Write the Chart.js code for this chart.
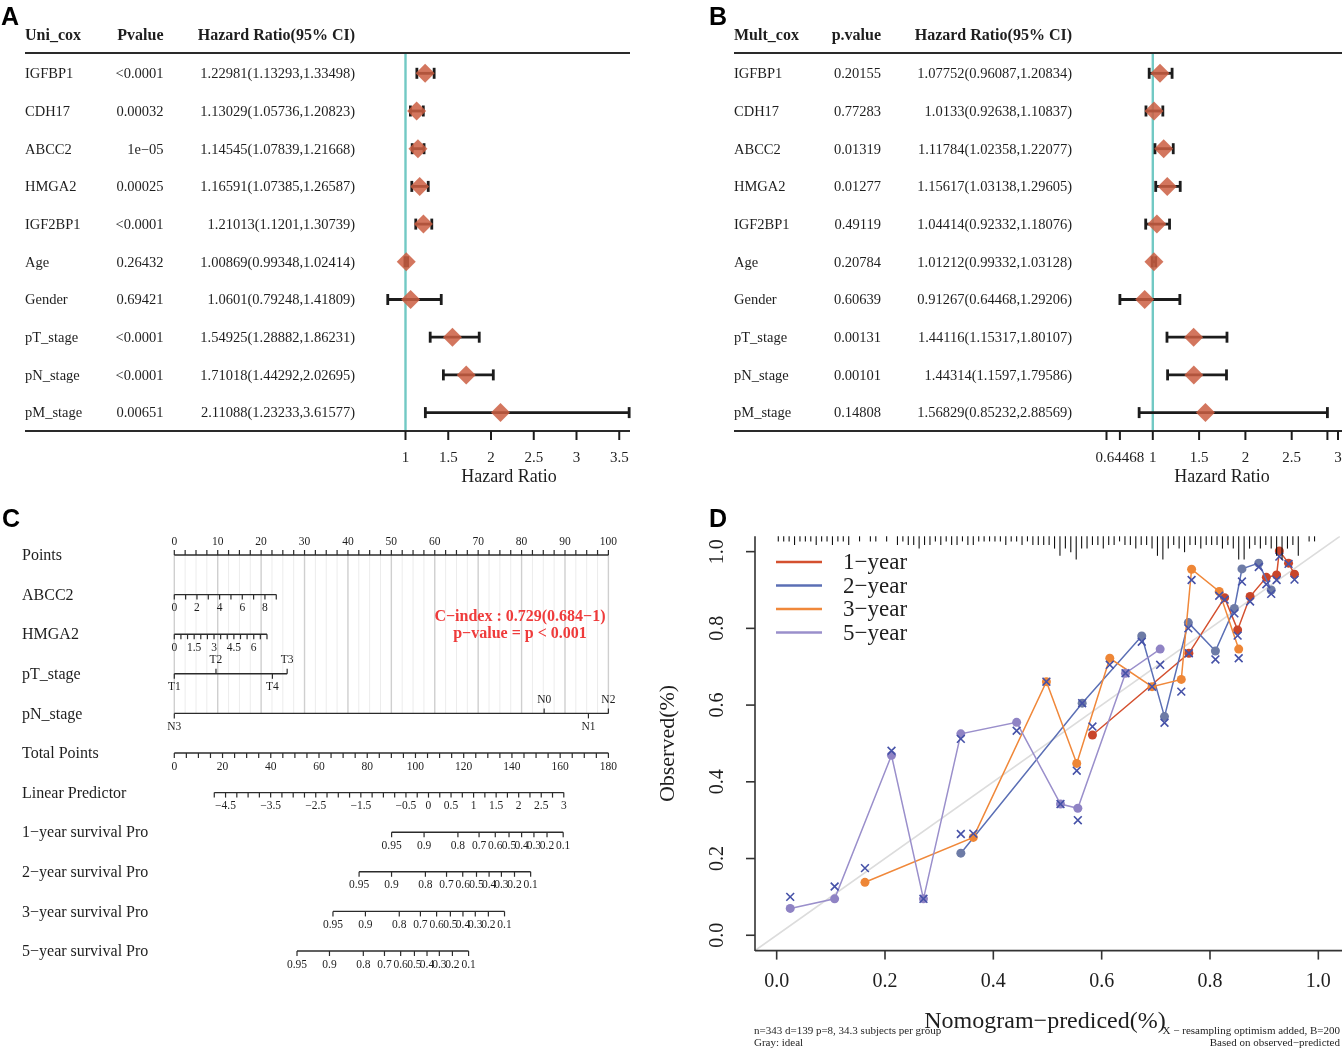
<!DOCTYPE html>
<html><head><meta charset="utf-8">
<script src="https://cdn.jsdelivr.net/npm/chart.js@4.4.1/dist/chart.umd.min.js"></script>
<style>
html,body{margin:0;padding:0;background:#fff;}
#wrap{position:relative;width:1342px;height:1049px;overflow:hidden;background:#fff;}
#wrap canvas{position:absolute;left:0;top:0;}
</style></head><body>
<div id="wrap">
<canvas id="cA" width="1342" height="1049"></canvas>
<canvas id="cB" width="1342" height="1049"></canvas>
<canvas id="cC" width="1342" height="1049"></canvas>
<canvas id="cD" width="1342" height="1049"></canvas>
</div>
<script>
// ================= DATA =================
// Panel A / B : forest plots
const rowNames = ['IGFBP1','CDH17','ABCC2','HMGA2','IGF2BP1','Age','Gender','pT_stage','pN_stage','pM_stage'];
const uniP    = ['<0.0001','0.00032','1e\u221205','0.00025','<0.0001','0.26432','0.69421','<0.0001','<0.0001','0.00651'];
const uniHR   = [1.22981,1.13029,1.14545,1.16591,1.21013,1.00869,1.0601,1.54925,1.71018,2.11088];
const uniLow  = [1.13293,1.05736,1.07839,1.07385,1.1201,0.99348,0.79248,1.28882,1.44292,1.23233];
const uniHigh = [1.33498,1.20823,1.21668,1.26587,1.30739,1.02414,1.41809,1.86231,2.02695,3.61577];
const multP    = ['0.20155','0.77283','0.01319','0.01277','0.49119','0.20784','0.60639','0.00131','0.00101','0.14808'];
const multHR   = [1.07752,1.0133,1.11784,1.15617,1.04414,1.01212,0.91267,1.44116,1.44314,1.56829];
const multLow  = [0.96087,0.92638,1.02358,1.03138,0.92332,0.99332,0.64468,1.15317,1.1597,0.85232];
const multHigh = [1.20834,1.10837,1.22077,1.29605,1.18076,1.03128,1.29206,1.80107,1.79586,2.88569];
const uniTicks = [1,1.5,2,2.5,3,3.5];
const uniTickLabels = ['1','1.5','2','2.5','3','3.5'];
const multTicks = [0.5,0.64468,1,1.5,2,2.5,2.88569,3];
const multTickLabels = ['','0.64468','1','1.5','2','2.5','','3'];

// Panel C : nomogram
const nomoRows = ['Points','ABCC2','HMGA2','pT_stage','pN_stage','Total Points','Linear Predictor',
  '1\u2212year survival Pro','2\u2212year survival Pro','3\u2212year survival Pro','5\u2212year survival Pro'];
const pointsLabels = [0,10,20,30,40,50,60,70,80,90,100];
const abcc2Values = [0,1,2,3,4,5,6,7,8,9];
const abcc2Labels = [0,2,4,6,8];
const abcc2PointsPerUnit = 2.61;
const hmga2Values = [0,0.5,1,1.5,2,2.5,3,3.5,4,4.5,5,5.5,6,6.5,7];
const hmga2Labels = [0,1.5,3,4.5,6];
const hmga2PointsPerUnit = 3.05;
const pTLevels = ['T1','T2','T3','T4'];
const pTPoints = [0,9.6,26.0,22.6];
const pNLevels = ['N0','N1','N2','N3'];
const pNPoints = [85.2,95.4,100,0];
const totalPointsLabels = [0,20,40,60,80,100,120,140,160,180];
const lpLabels = [-4.5,-3.5,-2.5,-1.5,-0.5,0,0.5,1,1.5,2,2.5,3];
const lpRange = [-4.75,3];
const lpToTotal = [105.4,18.7];           // total points = a + b*LP
const survYears = [1,2,3,5];
const baseSurvival = [0.8903,0.7874,0.6527,0.388];
const survProbs = [0.95,0.9,0.8,0.7,0.6,0.5,0.4,0.3,0.2,0.1];
const cIndexText = ['C\u2212index : 0.729(0.684\u22121)','p\u2212value = p < 0.001'];

// Panel D : calibration
const calLabels = ['1\u2212year','2\u2212year','3\u2212year','5\u2212year'];
const calPred1 = [0.583,0.761,0.827,0.851,0.874,0.904,0.923,0.928,0.945,0.956];
const calObs1  = [0.522,0.735,0.880,0.796,0.883,0.933,0.939,1.002,0.970,0.941];
const calCor1  = [0.544,0.735,0.875,0.781,0.870,0.915,0.926,0.987,0.968,0.927];
const calPred2 = [0.340,0.564,0.674,0.716,0.760,0.810,0.845,0.859,0.890,0.913];
const calObs2  = [0.214,0.605,0.780,0.570,0.815,0.741,0.852,0.955,0.970,0.900];
const calCor2  = [0.264,0.605,0.765,0.554,0.800,0.719,0.839,0.922,0.960,0.890];
const calPred3 = [0.163,0.363,0.498,0.554,0.615,0.693,0.747,0.766,0.817,0.853];
const calObs3  = [0.138,0.255,0.661,0.448,0.722,0.648,0.667,0.954,0.896,0.746];
const calCor3  = [0.175,0.265,0.661,0.429,0.705,0.648,0.635,0.926,0.885,0.722];
const calPred5 = [0.025,0.107,0.212,0.271,0.340,0.443,0.524,0.556,0.644,0.708];
const calObs5  = [0.070,0.095,0.469,0.095,0.525,0.555,0.342,0.331,0.683,0.746];
const calCor5  = [0.100,0.127,0.481,0.095,0.512,0.533,0.342,0.300,0.683,0.705];
const calTicks = [0,0.2,0.4,0.6,0.8,1.0];
const calTickLabels = ['0.0','0.2','0.4','0.6','0.8','1.0'];
const idealLine = [-0.04,1.04];
// rug of predicted values: counts in bins of width 0.01 from 0.00 to 0.99
const rugCounts = [1,1,1,2,1,1,1,2,1,1,2,1,1,2, 0,1,0,1,1,0,1,0,
  2,1,2,2,3,2,2,1,2,1,2,2,1,2,2, 1,1,1, 1,1,2,1,1,2,1,2,2,2,2,3, 5,3,4,6,3,3,
  2,2,3,2,2,1,2,2,3,2,2,3, 5,6,3, 2,3,4,2,2,3,2,2,2,3,2,3, 6,6, 3,2,3,2,3, 5,6,3,2,5, 0,1,1];
const footLeft = ['n=343 d=139 p=8, 34.3 subjects per group','Gray: ideal'];
const footRight = ['X \u2212 resampling optimism added, B=200','Based on observed\u2212predicted'];

// ================= HELPERS =================
const W = 1342, H = 1049;
const SERIF = '"Liberation Serif","Times New Roman",serif';
const SANS = '"Liberation Sans",Arial,sans-serif';
function T(ctx, s, x, y, size, o) {
  o = o || {};
  ctx.save();
  ctx.font = (o.bold ? 'bold ' : '') + size + 'px ' + (o.family || SERIF);
  ctx.fillStyle = o.color || '#1e1e1e';
  ctx.textAlign = o.align || 'left';
  ctx.textBaseline = o.baseline || 'middle';
  if (o.rot) { ctx.translate(x, y); ctx.rotate(o.rot); ctx.fillText(s, 0, 0); }
  else ctx.fillText(s, x, y);
  ctx.restore();
}
function L(ctx, x1, y1, x2, y2, color, width) {
  ctx.save(); ctx.beginPath(); ctx.strokeStyle = color || '#222'; ctx.lineWidth = width || 1;
  ctx.moveTo(x1, y1); ctx.lineTo(x2, y2); ctx.stroke(); ctx.restore();
}
function makeChart(id, area, xr, yr, datasets, before, after) {
  return new Chart(document.getElementById(id), {
    type: 'scatter',
    data: { datasets: datasets },
    options: {
      responsive: false, animation: false, events: [], devicePixelRatio: 1,
      layout: { autoPadding: false, padding: { left: area.l, top: area.t, right: W - area.r, bottom: H - area.b } },
      plugins: { legend: { display: false }, tooltip: { enabled: false } },
      scales: {
        x: { type: 'linear', display: false, min: xr[0], max: xr[1] },
        y: { type: 'linear', display: false, min: yr[0], max: yr[1], reverse: !!yr[2] }
      }
    },
    plugins: [{ id: 'p' + id,
      beforeDatasetsDraw(c) { if (before) before(c); },
      afterDraw(c) { if (after) after(c); } }]
  });
}

// ================= FOREST PLOTS =================
function forest(id, cfg) {
  const a = cfg.area;
  const xr = [1 - (cfg.onePx - a.l) / cfg.ppu, 1 + (a.r - cfg.onePx) / cfg.ppu];
  const yr = [-(cfg.row0 - a.t) / cfg.rowStep, (a.b - cfg.row0) / cfg.rowStep, true];
  const ds = [{ data: cfg.hr.map((v, i) => ({ x: v, y: i })), pointStyle: 'rectRot', pointRadius: 9.5,
    pointBackgroundColor: 'rgba(203,94,66,0.85)', pointBorderWidth: 0, borderWidth: 0, clip: false }];
  makeChart(id, a, xr, yr, ds, function (c) {
    const ctx = c.ctx, X = c.scales.x, Y = c.scales.y;
    const x1 = X.getPixelForValue(1);
    L(ctx, x1, a.t, x1, a.b, '#72c9c4', 2.4);
    cfg.hr.forEach((v, i) => {
      const y = Y.getPixelForValue(i), lo = X.getPixelForValue(cfg.lo[i]), hi = X.getPixelForValue(cfg.hi[i]);
      L(ctx, lo, y, hi, y, '#1c1c1c', 2.8);
      L(ctx, lo, y - 5.5, lo, y + 5.5, '#1c1c1c', 2.8);
      L(ctx, hi, y - 5.5, hi, y + 5.5, '#1c1c1c', 2.8);
    });
  }, function (c) {
    const ctx = c.ctx, X = c.scales.x, Y = c.scales.y;
    T(ctx, cfg.headers[0], cfg.colName, cfg.headerY, 16, { bold: true });
    T(ctx, cfg.headers[1], cfg.colP, cfg.headerY, 16, { bold: true, align: 'right' });
    T(ctx, cfg.headers[2], cfg.colHR, cfg.headerY, 16, { bold: true, align: 'right' });
    L(ctx, a.l, a.t, a.r, a.t, '#2a2a2a', 1.8);
    L(ctx, a.l, a.b, a.r, a.b, '#2a2a2a', 2);
    cfg.names.forEach((s, i) => {
      const y = Y.getPixelForValue(i) + 1;
      T(ctx, s, cfg.colName, y, 14.5);
      T(ctx, cfg.p[i], cfg.colP, y, 14.5, { align: 'right' });
      T(ctx, cfg.hr[i] + '(' + cfg.lo[i] + ',' + cfg.hi[i] + ')', cfg.colHR, y, 14.5, { align: 'right' });
    });
    cfg.ticks.forEach((t, i) => {
      const x = X.getPixelForValue(t);
      L(ctx, x, a.b, x, a.b + 9, '#1c1c1c', 2);
      if (cfg.tickLabels[i]) T(ctx, cfg.tickLabels[i], x, a.b + 27, 15, { align: 'center' });
    });
    T(ctx, 'Hazard Ratio', cfg.titleX, a.b + 46, 18, { align: 'center' });
    T(ctx, cfg.letter, cfg.letterX, 25, 25, { bold: true, family: SANS, baseline: 'alphabetic', color: '#000' });
  });
}

forest('cA', { area: { l: 25, t: 53, r: 630, b: 431 }, onePx: 405.5, ppu: 85.5, row0: 73.3, rowStep: 37.7,
  names: rowNames, p: uniP, hr: uniHR, lo: uniLow, hi: uniHigh, ticks: uniTicks, tickLabels: uniTickLabels,
  headers: ['Uni_cox', 'Pvalue', 'Hazard Ratio(95% CI)'], headerY: 36, colName: 25, colP: 163.5, colHR: 355,
  titleX: 509, letter: 'A', letterX: 1 });
forest('cB', { area: { l: 734, t: 53, r: 1342, b: 431 }, onePx: 1152.8, ppu: 92.6, row0: 73.3, rowStep: 37.7,
  names: rowNames, p: multP, hr: multHR, lo: multLow, hi: multHigh, ticks: multTicks, tickLabels: multTickLabels,
  headers: ['Mult_cox', 'p.value', 'Hazard Ratio(95% CI)'], headerY: 36, colName: 734, colP: 881, colHR: 1072,
  titleX: 1222, letter: 'B', letterX: 709 });

// ================= NOMOGRAM =================
(function () {
  const area = { l: 174.3, t: 540, r: 608.4, b: 965 };
  const row0 = 555, rowStep = 39.6;
  const yr = [-(row0 - area.t) / rowStep, (area.b - row0) / rowStep, true];
  makeChart('cC', area, [0, 100], yr, [], null, function (c) {
    const ctx = c.ctx, X = c.scales.x, Y = c.scales.y;
    const xp = v => X.getPixelForValue(v), yp = i => Y.getPixelForValue(i);
    const AX = '#2b2b2b', FS = 11.5;
    for (let k = 0; k <= 40; k++) {
      const p = k * 2.5, major = k % 4 === 0;
      L(ctx, xp(p), yp(0), xp(p), yp(4), major ? '#cfcfcf' : '#ececec', major ? 1.4 : 1);
    }
    nomoRows.forEach((s, i) => T(ctx, s, 22, yp(i) + 1, 16));
    function axis(i, pts0, pts1, tickPts, dir, labels) {
      const y = yp(i);
      L(ctx, xp(pts0), y, xp(pts1), y, AX, 1.4);
      tickPts.forEach(p => L(ctx, xp(p), y, xp(p), y + dir * 5, AX, 1.2));
      labels.forEach(l => T(ctx, l[1], xp(l[0]), y + dir * 13.5, FS, { align: 'center' }));
    }
    const ptTicks = []; for (let k = 0; k <= 40; k++) ptTicks.push(k * 2.5);
    axis(0, 0, 100, ptTicks, -1, pointsLabels.map(v => [v, String(v)]));
    axis(1, 0, abcc2Values[abcc2Values.length - 1] * abcc2PointsPerUnit, abcc2Values.map(v => v * abcc2PointsPerUnit), 1,
      abcc2Labels.map(v => [v * abcc2PointsPerUnit, String(v)]));
    axis(2, 0, hmga2Values[hmga2Values.length - 1] * hmga2PointsPerUnit, hmga2Values.map(v => v * hmga2PointsPerUnit), 1,
      hmga2Labels.map(v => [v * hmga2PointsPerUnit, String(v)]));
    function catRow(i, levels, pts) {
      const y = yp(i);
      const order = levels.map((s, k) => [pts[k], s]).sort((p, q) => p[0] - q[0]);
      L(ctx, xp(order[0][0]), y, xp(order[order.length - 1][0]), y, AX, 1.4);
      order.forEach((o, k) => {
        const dir = k % 2 === 0 ? 1 : -1;
        L(ctx, xp(o[0]), y, xp(o[0]), y + dir * 5, AX, 1.2);
        T(ctx, o[1], xp(o[0]), y + dir * 13.5, FS, { align: 'center' });
      });
    }
    catRow(3, pTLevels, pTPoints);
    catRow(4, pNLevels, pNPoints);
    const tpTicks = []; for (let k = 0; k <= 36; k++) tpTicks.push(k * 5 / 1.8);
    axis(5, 0, 100, tpTicks, 1, totalPointsLabels.map(v => [v / 1.8, String(v)]));
    const lpPts = lp => (lpToTotal[0] + lpToTotal[1] * lp) / 1.8;
    const lpTicks = []; for (let v = lpRange[0]; v <= lpRange[1] + 1e-9; v += 0.25) lpTicks.push(lpPts(v));
    axis(6, lpPts(lpRange[0]), lpPts(lpRange[1]), lpTicks, 1,
      lpLabels.map(v => [lpPts(v), (v < 0 ? '\u2212' : '') + Math.abs(v)]));
    survYears.forEach((yr, k) => {
      const s0 = baseSurvival[k];
      const pp = p => lpPts(Math.log(Math.log(p) / Math.log(s0)));
      axis(7 + k, pp(survProbs[0]), pp(survProbs[survProbs.length - 1]), survProbs.map(pp), 1,
        survProbs.map(p => [pp(p), String(p)]));
    });
    T(ctx, cIndexText[0], 520, 616.5, 16, { bold: true, align: 'center', color: '#ef3b3b' });
    T(ctx, cIndexText[1], 520, 633.5, 16, { bold: true, align: 'center', color: '#ef3b3b' });
    T(ctx, 'C', 2, 527, 25, { bold: true, family: SANS, baseline: 'alphabetic', color: '#000' });
  });
})();

// ================= CALIBRATION =================
(function () {
  const area = { l: 755, t: 536.3, r: 1340, b: 950.6 };
  const cols = ['#d4502f', '#5b6fb5', '#f0883a', '#9a8fcb'];
  const ptCols = ['#c9452a', '#6d7ba6', '#ee8636', '#8f83c4'];
  const preds = [calPred1, calPred2, calPred3, calPred5];
  const obs = [calObs1, calObs2, calObs3, calObs5];
  const cors = [calCor1, calCor2, calCor3, calCor5];
  const ds = [];
  ds.push({ data: idealLine.map(v => ({ x: v, y: v })), showLine: true, borderColor: '#dcdcdc', borderWidth: 1.6,
    pointRadius: 0, order: 100 });
  [3, 2, 1, 0].forEach((k, n) => {
    ds.push({ data: preds[k].map((x, i) => ({ x: x, y: obs[k][i] })), showLine: true, borderColor: cols[k],
      borderWidth: 1.5, pointRadius: 4.5, pointBackgroundColor: ptCols[k], pointBorderColor: ptCols[k],
      pointBorderWidth: 0, order: 20 + n });
  });
  [0, 1, 2, 3].forEach(k => {
    ds.push({ data: preds[k].map((x, i) => ({ x: x, y: cors[k][i] })), showLine: false, pointStyle: 'crossRot',
      pointRadius: 5.5, pointBorderColor: '#4652a8', pointBorderWidth: 1.6, pointBackgroundColor: 'rgba(0,0,0,0)', order: 1 });
  });
  makeChart('cD', area, [-0.04, 1.04], [-0.04, 1.04], ds, null, function (c) {
    const ctx = c.ctx, X = c.scales.x, Y = c.scales.y;
    const ca = c.chartArea;
    L(ctx, ca.left, ca.top, ca.left, ca.bottom + 0.5, '#333', 1.6);
    L(ctx, ca.left, ca.bottom, W, ca.bottom, '#333', 1.6);
    calTicks.forEach((t, i) => {
      const x = X.getPixelForValue(t), y = Y.getPixelForValue(t);
      L(ctx, x, ca.bottom, x, ca.bottom + 9, '#333', 1.6);
      T(ctx, calTickLabels[i], x, ca.bottom + 31, 20, { align: 'center' });
      L(ctx, ca.left, y, ca.left - 9, y, '#333', 1.6);
      T(ctx, calTickLabels[i], ca.left - 37, y, 20, { align: 'center', rot: -Math.PI / 2 });
    });
    T(ctx, 'Observed(%)', 668, (ca.top + ca.bottom) / 2, 22, { align: 'center', rot: -Math.PI / 2 });
    rugCounts.forEach((n, i) => {
      if (!n) return;
      const x = X.getPixelForValue(i * 0.01 + 0.003);
      L(ctx, x, ca.top, x, ca.top + 1.5 + n * 3.6, '#111', 1.1);
    });
    calLabels.forEach((s, k) => {
      const y = 562 + k * 23.5;
      L(ctx, 776, y, 822, y, cols[k], 2.4);
      T(ctx, s, 843, y + 1, 23);
    });
    T(ctx, 'Nomogram\u2212prediced(%)', 1045, 1022, 24, { align: 'center' });
    T(ctx, footLeft[0], 754, 1031, 11);
    T(ctx, footLeft[1], 754, 1043, 11);
    T(ctx, footRight[0], 1340, 1031, 11, { align: 'right' });
    T(ctx, footRight[1], 1340, 1043, 11, { align: 'right' });
    T(ctx, 'D', 709, 527, 25, { bold: true, family: SANS, baseline: 'alphabetic', color: '#000' });
  });
})();
</script>
</body></html>
